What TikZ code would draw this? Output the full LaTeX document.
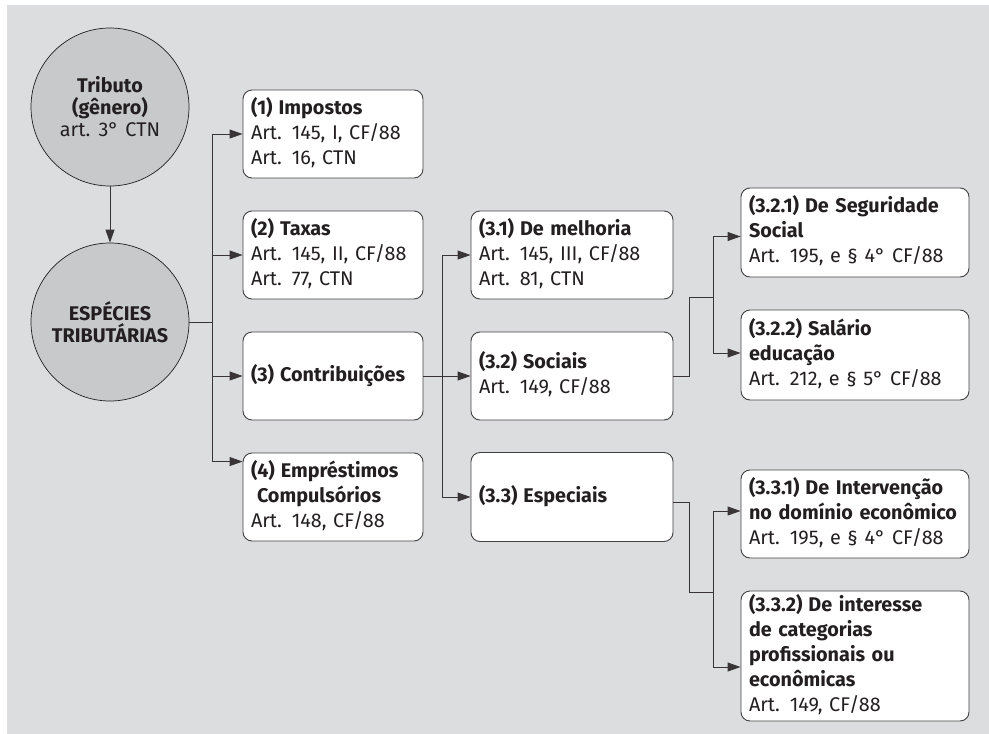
\documentclass[tikz,border=0pt]{standalone}
\usepackage{fontspec}
\setmainfont{Fira Sans}[WordSpace=1.25]
\usetikzlibrary{arrows.meta,calc}
\definecolor{panel}{HTML}{DCDDDF}
\definecolor{disc}{HTML}{C8C9CB}
\definecolor{ink}{HTML}{231F20}
\newcommand{\lns}[1]{\begin{tabular}{@{}l@{}}#1\end{tabular}}
\begin{document}
\begin{tikzpicture}[x=1pt,y=-1pt,
  font=\fontsize{19.8}{25}\selectfont,
  boxnode/.style={draw=ink!85, line width=0.9pt, fill=white, rounded corners=9pt,
    inner xsep=8pt, inner ysep=0pt, align=left, text=ink},
  disc/.style={circle, draw=ink, line width=0.7pt, fill=disc, minimum size=158pt,
    inner sep=0pt, align=center, text=ink, font=\fontsize{19.8}{22}\selectfont},
  link/.style={draw=ink!90, line width=0.9pt},
  arr/.style={link, -{Triangle[length=13pt,width=9pt]}}]
\path[use as bounding box] (0,0) rectangle (989,734);
\fill[panel] (7,5) rectangle (989,734);

% circles
\node[disc] (t1) at (110,107) {\textbf{Tributo}\\\textbf{(gênero)}\\art. 3° CTN};
\node[disc] (t2) at (110,322) {\textbf{ESPÉCIES}\\\textbf{TRIBUTÁRIAS}};

% column 1
\node[boxnode, text width=164pt, minimum height=88pt] (b1) at (333,134)
  {\lns{\textbf{(1)\hspace{0.3em}Impostos}\\Art. 145, I, CF/88\\Art. 16, CTN}};
\node[boxnode, text width=164pt, minimum height=88pt] (b2) at (333,255)
  {\lns{\textbf{(2)\hspace{0.3em}Taxas}\\Art. 145, II, CF/88\\Art. 77, CTN}};
\node[boxnode, text width=164pt, minimum height=88pt] (b3) at (333,376)
  {\lns{\textbf{(3)\hspace{0.3em}Contribuições}}};
\node[boxnode, text width=164pt, minimum height=88pt] (b4) at (333,497)
  {\lns{\textbf{(4)\hspace{0.3em}Empréstimos}\\\hspace*{6pt}\textbf{Compulsórios}\\Art. 148, CF/88}};

% column 2
\node[boxnode, text width=186pt, minimum height=88pt] (c1) at (572,255)
  {\lns{\textbf{(3.1)\hspace{0.3em}De melhoria}\\Art. 145, III, CF/88\\Art. 81, CTN}};
\node[boxnode, text width=186pt, minimum height=88pt] (c2) at (572,376)
  {\lns{\textbf{(3.2)\hspace{0.3em}Sociais}\\Art. 149, CF/88}};
\node[boxnode, text width=186pt, minimum height=89pt] (c3) at (572,497)
  {\lns{\textbf{(3.3)\hspace{0.3em}Especiais}}};

% column 3
\node[boxnode, text width=212pt, minimum height=89pt] (d1) at (855,232.5)
  {\lns{\textbf{(3.2.1)\hspace{0.3em}De Seguridade}\\\textbf{Social}\\Art. 195, e § 4° CF/88}};
\node[boxnode, text width=212pt, minimum height=90pt] (d2) at (855,355)
  {\lns{\textbf{(3.2.2)\hspace{0.3em}Salário}\\\textbf{educação}\\Art. 212, e § 5° CF/88}};
\node[boxnode, text width=212pt, minimum height=88pt] (d3) at (855,514)
  {\lns{\textbf{(3.3.1)\hspace{0.3em}De Intervenção}\\\textbf{no domínio econômico}\\Art. 195, e § 4° CF/88}};
\node[boxnode, text width=212pt, minimum height=130pt] (d4) at (855,656)
  {\lns{\textbf{(3.3.2)\hspace{0.3em}De interesse}\\\textbf{de categorias}\\\textbf{profissionais ou}\\\textbf{econômicas}\\Art. 149, CF/88}};

% connectors
\draw[arr] (t1) -- (t2);

\coordinate (j1) at (212,322);
\coordinate (b4in) at ($(b4.north west)+(0,9)$);
\draw[link] (t2.east) -- (j1);
\draw[link] (j1 |- b1.west) -- (j1 |- b4in);
\draw[arr] (j1 |- b1.west) -- (b1.west);
\draw[arr] (j1 |- b2.west) -- (b2.west);
\draw[arr] (j1 |- b3.west) -- (b3.west);
\draw[arr] (j1 |- b4in) -- (b4in);

\coordinate (j2) at ($(b3.east)+(19,0)$);
\draw[link] (j2 |- c1.west) -- (j2 |- c3.west);
\draw[arr] (b3.east) -- (c2.west);
\draw[arr] (j2 |- c1.west) -- (c1.west);
\draw[arr] (j2 |- c3.west) -- (c3.west);

% (3.2) -> (3.2.1), (3.2.2)
\coordinate (d1in) at ($(d1.west)+(0,4)$);
\coordinate (d2in) at ($(d2.west)+(0,-2)$);
\coordinate (k0) at ($(c2.east)+(16,0)$);
\coordinate (j3) at ($(c2.east)+(40,-79)$);
\draw[link] (c2.east) -- (k0) |- (j3);
\draw[link] (j3 |- d1in) -- (j3 |- d2in);
\draw[arr] (j3 |- d1in) -- (d1in);
\draw[arr] (j3 |- d2in) -- (d2in);

% (3.3) -> (3.3.1), (3.3.2)
\coordinate (cout) at ($(c3.east)+(0,5)$);
\coordinate (k1) at ($(cout)+(16,0)$);
\coordinate (j4) at ($(c3.east)+(40,95)$);
\coordinate (d3in) at ($(d3.west)+(0,-3)$);
\coordinate (d4in) at ($(d4.west)+(0,11)$);
\draw[link] (cout) -- (k1) |- (j4);
\draw[link] (j4 |- d3in) -- (j4 |- d4in);
\draw[arr] (j4 |- d3in) -- (d3in);
\draw[arr] (j4 |- d4in) -- (d4in);
\end{tikzpicture}
\end{document}
